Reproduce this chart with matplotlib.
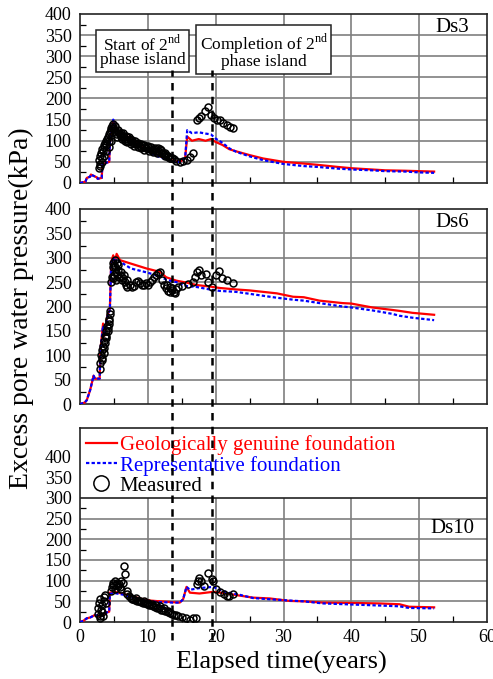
import matplotlib.pyplot as plt
import numpy as np
from matplotlib.lines import Line2D
from matplotlib.patches import Rectangle

plt.rcParams['font.family'] = ['Liberation Serif', 'DejaVu Serif']
plt.rcParams['mathtext.fontset'] = 'custom'
plt.rcParams['mathtext.rm'] = 'Liberation Serif'

# ---- Ds3 ----
geoX3 = [0, 0.8, 1.0, 1.5, 1.6, 2.5, 2.6, 3.2, 3.3, 4.3, 4.4, 4.9, 5.1, 5.5, 6.0, 7.0, 8.0, 9.0, 10.0, 11.0,
         12.0, 13.0, 14.0, 14.7, 15.2, 15.5, 15.8, 16.5, 17.5, 18.5, 19.3, 20.0, 21.0, 22.0, 23.0, 25.0, 27.0,
         30.0, 33.0, 35.0, 38.0, 40.0, 43.0, 45.0, 48.0, 50.0, 52.2]
geoY3 = [0, 3, 12, 15, 20, 13, 10, 12, 45, 50, 95, 145, 140, 125, 120, 110, 100, 90, 78, 70,
         62, 56, 52, 50, 55, 60, 110, 100, 104, 100, 104, 97, 90, 80, 75, 66, 58,
         50, 46, 43, 38, 35, 32, 30, 29, 28, 27]
repY3 = [0, 3, 12, 15, 20, 13, 10, 12, 45, 50, 95, 150, 140, 123, 118, 107, 97, 87, 75, 66,
         60, 54, 50, 50, 55, 60, 125, 118, 120, 117, 115, 105, 95, 82, 74, 63, 54,
         45, 40, 38, 34, 32, 30, 28, 27, 25, 24]
measX3 = [2.8, 2.8, 2.9, 3.0, 3.0, 3.1, 3.2, 3.3, 3.3, 3.4, 3.5, 3.6, 3.7, 3.8, 3.9, 4.0, 4.1, 4.2, 4.3, 4.4,
          4.5, 4.6, 4.7, 4.8, 4.9, 5.0, 5.1, 5.3, 5.5, 5.7, 5.9, 6.1, 6.3, 6.5, 6.7, 6.9, 7.1, 7.3, 7.6, 7.9,
          8.2, 8.5, 8.8, 9.1, 9.4, 9.7, 10.0, 10.3, 10.6, 10.9, 11.2, 11.5, 11.8, 12.1, 12.4, 12.7, 13.0, 13.3,
          13.6, 13.9, 14.2, 14.7, 15.2, 15.7, 16.2, 16.7, 17.3, 17.5, 17.9, 18.4, 18.9, 19.3, 19.7, 20.2,
          20.6, 21.1, 21.6, 22.1, 22.6,
          5.2, 5.6, 6.0, 6.4, 6.8, 7.2, 7.7, 8.1, 8.6, 9.0, 9.5, 10.0, 10.5, 11.0, 11.5, 12.0, 12.5, 13.0, 13.5,
          6.2, 6.6, 7.0, 7.5, 8.0, 8.5, 9.0, 9.5, 10.2, 10.8, 11.4, 12.0, 12.6, 13.2, 3.6, 3.9, 4.2, 4.6]
measY3 = [35, 55, 45, 65, 40, 70, 60, 50, 80, 75, 90, 85, 95, 100, 90, 105, 110, 100, 115, 120,
          125, 130, 135, 140, 130, 125, 120, 115, 110, 120, 115, 110, 112, 108, 105, 110, 100, 105, 98, 95,
          92, 93, 88, 90, 85, 83, 84, 80, 78, 80, 76, 75, 80, 72, 68, 66, 64, 60,
          58, 56, 53, 50, 52, 55, 62, 70, 150, 155, 158, 170, 180, 160, 153, 150,
          148, 143, 138, 132, 129,
          135, 125, 118, 118, 112, 108, 102, 100, 95, 92, 90, 88, 84, 82, 82, 78, 70, 62, 58,
          105, 100, 98, 92, 88, 85, 82, 78, 76, 74, 72, 70, 64, 60, 65, 75, 85, 100]

# ---- Ds6 ----
geoX6 = [0, 0.7, 1.0, 1.5, 2.0, 2.2, 2.9, 3.0, 3.4, 3.6, 4.0, 4.4, 4.6, 4.9, 5.1, 5.4, 5.9, 7.5, 9.8, 11.8,
         12.7, 14.2, 15.7, 17.2, 19.1, 20.6, 23.0, 25.0, 27.0, 29.0, 31.4, 33.0, 35.3, 38.7, 40.0, 43.1,
         46.0, 47.1, 49.0, 52.2]
geoY6 = [0, 3, 8, 29, 58, 52, 52, 110, 165, 140, 180, 195, 292, 305, 290, 308, 295, 288, 278, 271,
         260, 253, 249, 244, 241, 238, 235, 233, 230, 227, 220, 219, 212, 207, 206, 198,
         193, 191, 187, 183]
repY6 = [0, 3, 8, 29, 58, 52, 52, 110, 160, 140, 178, 193, 290, 300, 290, 298, 292, 278, 270, 262,
         255, 250, 242, 240, 235, 232, 230, 226, 222, 218, 214, 212, 207, 200, 198, 192,
         185, 181, 177, 172]
measX6 = [2.9, 3.0, 3.1, 3.2, 3.3, 3.4, 3.5, 3.6, 3.7, 3.8, 3.9, 4.0, 4.1, 4.2, 4.3, 4.4, 4.4, 4.6, 4.7, 4.8,
          4.9, 5.0, 5.1, 5.2, 5.3, 5.4, 5.5, 5.6, 4.8, 5.0, 5.3, 5.8, 6.0, 6.2, 6.4, 6.6, 6.8, 7.0, 7.3, 7.6,
          7.9, 8.2, 8.5, 8.8, 9.1, 9.4, 9.7, 10.0, 10.3, 10.6, 10.9, 11.2, 11.5, 11.8, 12.1, 12.4, 12.7,
          13.0, 13.3, 13.6, 13.9, 14.2, 14.5, 15.0, 15.9, 16.7, 16.9, 17.3, 17.5, 17.9, 18.5, 18.9, 19.4,
          20.1, 20.5, 21.0, 21.6, 22.5,
          3.3, 3.5, 3.7, 3.9, 4.1, 4.3, 5.6, 6.0, 6.5, 7.0, 12.8, 13.2, 13.6, 14.0]
measY6 = [72, 85, 100, 95, 110, 120, 115, 130, 140, 135, 150, 160, 155, 165, 175, 185, 190, 250, 260, 280,
          290, 285, 295, 280, 270, 290, 265, 275, 258, 265, 255, 260, 262, 255, 258, 250, 245, 240, 245, 240,
          242, 250, 252, 248, 245, 244, 248, 245, 250, 255, 260, 265, 268, 270, 255, 245, 238,
          232, 230, 233, 230, 235, 240, 243, 246, 250, 260, 271, 274, 265, 267, 250, 240,
          265, 272, 258, 255, 248,
          90, 105, 125, 140, 150, 170, 285, 270, 265, 255, 245, 240, 238, 228]

# ---- Ds10 ----
geoX10 = [0, 0.5, 1.0, 1.5, 2.2, 2.9, 3.2, 3.7, 3.9, 4.3, 4.4, 5.1, 6.4, 7.1, 8.8, 10.3, 11.8, 13.7, 14.7,
          15.2, 15.7, 16.2, 17.6, 19.6, 21.6, 23.5, 25.5, 28.0, 30.9, 33.0, 35.8, 40.7, 44.0, 47.1, 48.5, 52.2]
geoY10 = [0, 3, 9, 11, 17, 14, 15, 20, 23, 25, 71, 73, 68, 65, 57, 52, 50, 48, 47,
          55, 85, 71, 69, 73, 69, 64, 59, 57, 51, 50, 47, 46, 45, 43, 37, 35.5]
repY10 = [0, 3, 9, 11, 17, 14, 15, 20, 23, 25, 68, 70, 66, 62, 55, 50, 48, 47, 47,
          55, 85, 78, 82, 85, 72, 66, 58, 55, 52, 50, 45, 42, 40, 38, 34, 33]
measX10 = [2.6, 2.7, 2.8, 2.9, 3.0, 3.1, 3.2, 3.3, 3.5, 3.6, 3.7, 3.8, 3.4, 3.0, 4.5, 4.7, 4.9, 5.1, 5.3, 5.5,
           5.7, 5.9, 6.1, 6.3, 6.5, 6.6, 6.9, 7.2, 7.5, 7.8, 8.1, 8.4, 8.7, 9.0, 9.3, 9.6, 9.9, 10.2, 10.5,
           10.8, 11.1, 11.4, 11.7, 12.0, 12.3, 12.6, 12.9, 13.2, 13.5, 13.8, 14.1, 14.4, 15.0, 15.6, 16.2,
           16.7, 17.1, 17.2, 17.4, 17.6, 17.9, 18.3, 18.9, 19.4, 19.6, 20.1, 20.7, 21.2, 21.6, 22.0, 22.5,
           4.8, 5.2, 5.6, 6.0, 7.0, 7.6, 8.2, 8.8, 9.4, 10.0, 10.6, 11.2, 11.8, 12.4, 13.0]
measY10 = [20, 35, 45, 15, 55, 30, 25, 40, 60, 50, 65, 45, 15, 10, 75, 85, 95, 100, 90, 95,
           92, 85, 80, 95, 135, 115, 75, 62, 58, 55, 53, 52, 50, 48, 47, 45, 44, 42, 40,
           38, 36, 35, 33, 30, 28, 26, 24, 22, 20, 18, 16, 14, 11, 10, 6,
           9, 10, 93, 98, 106, 100, 88, 118, 103, 100, 80, 72, 68, 64, 63, 68,
           90, 80, 88, 100, 68, 56, 58, 52, 50, 46, 44, 40, 38, 34, 27]

startTime = 13.6
completionTime = 19.4

xTicks = [0, 10, 20, 30, 40, 50, 60]
yTicks = [0, 50, 100, 150, 200, 250, 300, 350, 400]

panels = [
    ("Ds3", geoX3, geoY3, repY3, measX3, measY3),
    ("Ds6", geoX6, geoY6, repY6, measX6, measY6),
    ("Ds10", geoX10, geoY10, repY10, measX10, measY10),
]

fig = plt.figure(figsize=(4.93, 6.79), dpi=100)
positions = [[0.1623, 0.7305, 0.8256, 0.2489],
             [0.1623, 0.4050, 0.8256, 0.2872],
             [0.1623, 0.0839, 0.8256, 0.2857]]
ymaxes = [400, 400, 469]
labelPos = [(0.955, 0.92), (0.955, 0.93), (0.97, 0.48)]
gridColor = "#7f7f7f"

axes = []
for i, (name, gx, gy, ry, mx, my) in enumerate(panels):
    ax = fig.add_axes(positions[i])
    axes.append(ax)
    ax.set_xlim(0, 60)
    ax.set_ylim(0, ymaxes[i])
    ax.set_xticks(xTicks)
    ax.set_xticks(np.arange(5, 60, 10), minor=True)
    ax.set_yticks(yTicks)
    ax.set_yticks(np.arange(25, 400, 50), minor=True)
    ax.tick_params(which="both", direction="in", labelsize=13, top=False, right=False)
    ax.tick_params(which="major", length=0, pad=6)
    ax.tick_params(which="minor", length=4, width=0.9)
    ax.tick_params(axis="x", pad=5)
    if i < 2:
        ax.tick_params(axis="x", labelbottom=False)
    for sp in ax.spines.values():
        sp.set_linewidth(1.2)
        sp.set_color("#222222")

    gridTop = 400 if i < 2 else 300
    ax.hlines([y for y in yTicks if 0 < y < gridTop], 0, 60, color=gridColor, lw=1.2, zorder=1)
    ax.vlines([x for x in xTicks if 0 < x < 60], 0, gridTop, color=gridColor, lw=1.2, zorder=1)

    ax.plot(gx, gy, color="red", lw=1.6, zorder=3, label="Geologically genuine foundation")
    ax.plot(gx, ry, color="blue", lw=1.6, ls=(0, (1.5, 1)), zorder=3, label="Representative foundation")
    ax.plot(mx, my, ls="none", marker="o", ms=5, mfc="none", mec="black", mew=1.1, zorder=4, label="Measured")

    ax.text(labelPos[i][0], labelPos[i][1], name, transform=ax.transAxes, ha="right", va="center",
            fontsize=15, zorder=6)

# legend box on the bottom panel
ax3 = axes[2]
ax3.add_patch(Rectangle((0, 300), 60, 169, facecolor="white", edgecolor="#222222", lw=1.2, zorder=5))
leg = ax3.legend(loc="upper left", bbox_to_anchor=(-0.005, 1.005), frameon=False, fontsize=15,
                 handlelength=1.45, handletextpad=0.15, labelspacing=0.02, borderaxespad=0.0,
                 markerscale=2.2)
leg.set_zorder(7)
for text, c in zip(leg.get_texts(), ["red", "blue", "black"]):
    text.set_color(c)

# annotation boxes in the top panel
ax1 = axes[0]
boxStyle = dict(boxstyle="square,pad=0.2", facecolor="white", edgecolor="#222222", lw=1.1)
ax1.text(9.2, 313, "Start of 2$^{\\rm nd}$\nphase island", ha="center", va="center", fontsize=12.5,
         linespacing=0.85, bbox=boxStyle, zorder=6)
ax1.text(27.1, 313, "Completion of 2$^{\\rm nd}$\nphase island", ha="center", va="center", fontsize=12.5,
         linespacing=0.85, bbox=boxStyle, zorder=6)

# vertical dashed lines through all panels
pos1 = ax1.get_position()
for t in [startTime, completionTime]:
    xf = pos1.x0 + t / 60 * pos1.width
    fig.add_artist(Line2D([xf, xf], [0.0574, 0.897], transform=fig.transFigure, color="black",
                          lw=1.8, ls=(0, (3, 2.5)), zorder=10))

fig.text(0.043, 0.546, "Excess pore water pressure(kPa)", rotation=90, ha="center", va="center", fontsize=20)
fig.text(0.57, 0.024, "Elapsed time(years)", ha="center", va="center", fontsize=19)

fig.savefig("out.png", dpi=100)
